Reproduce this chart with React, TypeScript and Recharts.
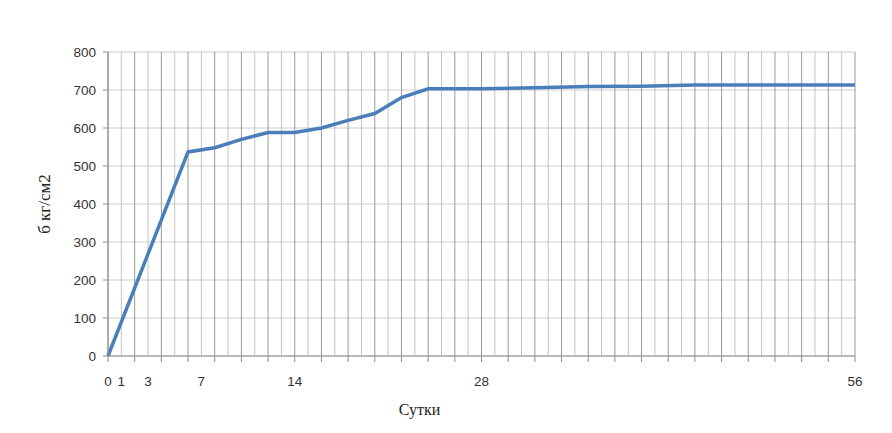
import React from 'react';
import { LineChart, Line, XAxis, YAxis, CartesianGrid } from 'recharts';

const days = [0, 6, 8, 10, 12, 14, 16, 18, 20, 22, 24, 28, 32, 36, 40, 44, 56];
const strength = [0, 537, 548, 570, 588, 588, 600, 620, 638, 680, 703, 703, 706, 709, 710, 713, 713];
const xLabels = [0, 1, 3, 7, 14, 28, 56];
const yTicks = [0, 100, 200, 300, 400, 500, 600, 700, 800];
const gridDays = Array.from({ length: 57 }, (_, i) => i);

const data = days.map((d, i) => ({ day: d, value: strength[i] }));

const XTick = (props: any) => {
  const { x, y, payload } = props;
  const v = payload.value;
  return (
    <g>
      {v % 2 === 0 && <line x1={x} x2={x} y1={y} y2={y + 6} stroke="#8c8c8c" strokeWidth={1} />}
      {xLabels.includes(v) && (
        <text x={x} y={y + 25} dy="0.35em" textAnchor="middle" fontSize={13.5} fill="#333" fontFamily="'Liberation Sans', Arial, sans-serif">
          {v}
        </text>
      )}
    </g>
  );
};

const VLine = (props: any) => {
  const { x1, x2, y1, y2, index } = props;
  return <line x1={x1} x2={x2} y1={y1} y2={y2} stroke={index % 2 === 0 ? '#9a9a9a' : '#c4c4c4'} strokeWidth={1} />;
};

export default function App() {
  return (
    <LineChart width={884} height={425} data={data} margin={{ top: 44, right: 37, bottom: 47, left: 40 }}>
      <CartesianGrid horizontal={{ stroke: '#8c8c8c' }} vertical={VLine as any} />
      <XAxis
        dataKey="day"
        type="number"
        domain={[0, 56]}
        ticks={gridDays}
        interval={0}
        tick={<XTick />}
        tickLine={false}
        tickSize={0}
        tickMargin={0}
        height={30}
        axisLine={{ stroke: '#8c8c8c' }}
        label={{ value: 'Сутки', position: 'bottom', offset: 18, dx: -62, fontSize: 16, fill: '#222', fontFamily: "'Liberation Serif', 'Times New Roman', serif" }}
      />
      <YAxis
        type="number"
        domain={[0, 800]}
        ticks={yTicks}
        width={60}
        tickSize={5}
        tickMargin={7}
        tickLine={{ stroke: '#8c8c8c' }}
        axisLine={{ stroke: '#8c8c8c' }}
        tick={{ fontSize: 13.5, fill: '#333', fontFamily: "'Liberation Sans', Arial, sans-serif" }}
        label={{ value: 'б кг/см2', angle: -90, position: 'left', offset: 4, textAnchor: 'middle', fontSize: 17, fill: '#222', fontFamily: "'Liberation Serif', 'Times New Roman', serif" }}
      />
      <Line type="linear" dataKey="value" stroke="#4a7ebb" strokeWidth={3.5} dot={false} isAnimationActive={false} />
    </LineChart>
  );
}
